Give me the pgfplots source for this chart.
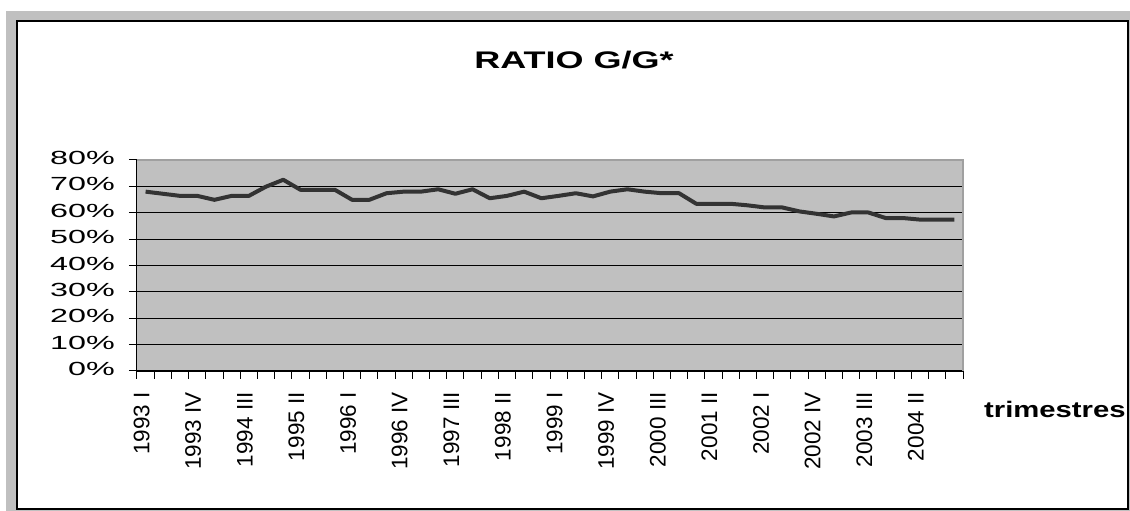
\documentclass[border=0pt]{standalone}
\usepackage{fontspec}
\setmainfont{Liberation Sans}
\usepackage{pgfplots}
\pgfplotsset{compat=1.18}
\definecolor{plotgray}{HTML}{C0C0C0}
\definecolor{bordergray}{HTML}{A0A0A0}
\definecolor{linegray}{HTML}{333333}
\newcommand\ylab[1]{\scalebox{1.7}[1]{\fontsize{19}{19}\selectfont #1}}
\begin{document}
\begin{tikzpicture}[x=1pt,y=1pt]
\path[use as bounding box] (0,0) rectangle (1130,511);
\fill[white] (0,0) rectangle (1130,511);
\fill[plotgray] (6,0) rectangle (1130,500);
\draw[black, line width=2.5pt, fill=white] (17,2) rectangle (1128,490);
\node at (574,451) {\scalebox{1.5}[1]{\fontsize{24}{24}\selectfont\bfseries RATIO G/G*}};
\node[anchor=base west, inner sep=0pt] at (984,93) {\scalebox{1.3}[1]{\fontsize{22.5}{22.5}\selectfont\bfseries trimestres}};
\begin{axis}[
  at={(137pt,140pt)}, anchor=south west,
  scale only axis, width=826pt, height=211pt,
  xmin=-0.5, xmax=47.5, ymin=0, ymax=80,
  axis lines*=left,
  axis line style={black, line width=1pt},
  axis background/.style={fill=plotgray},
  ytick={0,10,...,80},
  yticklabels={\ylab{0\%},\ylab{10\%},\ylab{20\%},\ylab{30\%},\ylab{40\%},\ylab{50\%},\ylab{60\%},\ylab{70\%},\ylab{80\%}},
  ymajorgrids, grid style={black, line width=0.8pt},
  xtick={-0.5,0.5,...,47.5}, xticklabels={},
  extra x ticks={0,3,...,45},
  extra x tick labels={1993 I,1993 IV,1994 III,1995 II,1996 I,1996 IV,1997 III,1998 II,1999 I,1999 IV,2000 III,2001 II,2002 I,2002 IV,2003 III,2004 II},
  extra x tick style={major tick length=0pt, grid=none},
  tick align=outside, major tick length=8pt, tick style={black, line width=1pt},
  xticklabel style={font=\fontsize{22.5}{22.5}\selectfont, xshift=-4pt, yshift=-21pt, rotate=90, anchor=east, inner sep=0pt},
  yticklabel style={anchor=east, inner sep=0pt, xshift=-14pt, yshift=2pt},
  clip=false,
]
\addplot[linegray, line width=4pt, line join=round, mark=none] coordinates {
(0,68.0) (1,67.2) (2,66.4) (3,66.4) (4,64.9) (5,66.4) (6,66.4) (7,69.9)
(8,72.5) (9,68.7) (10,68.7) (11,68.7) (12,64.9) (13,64.9) (14,67.4) (15,68.0)
(16,68.0) (17,68.9) (18,67.2) (19,68.9) (20,65.5) (21,66.4) (22,68.0) (23,65.5)
(24,66.4) (25,67.4) (26,66.2) (27,68.0) (28,68.9) (29,68.0) (30,67.4) (31,67.4)
(32,63.4) (33,63.4) (34,63.4) (35,62.8) (36,62.0) (37,62.0) (38,60.5) (39,59.6)
(40,58.6) (41,60.1) (42,60.1) (43,58.0) (44,58.0) (45,57.4) (46,57.4) (47,57.4)
};
\draw[bordergray, line width=1.5pt] (rel axis cs:0,1) -- (rel axis cs:1,1) -- (rel axis cs:1,0);
\end{axis}
\end{tikzpicture}
\end{document}
